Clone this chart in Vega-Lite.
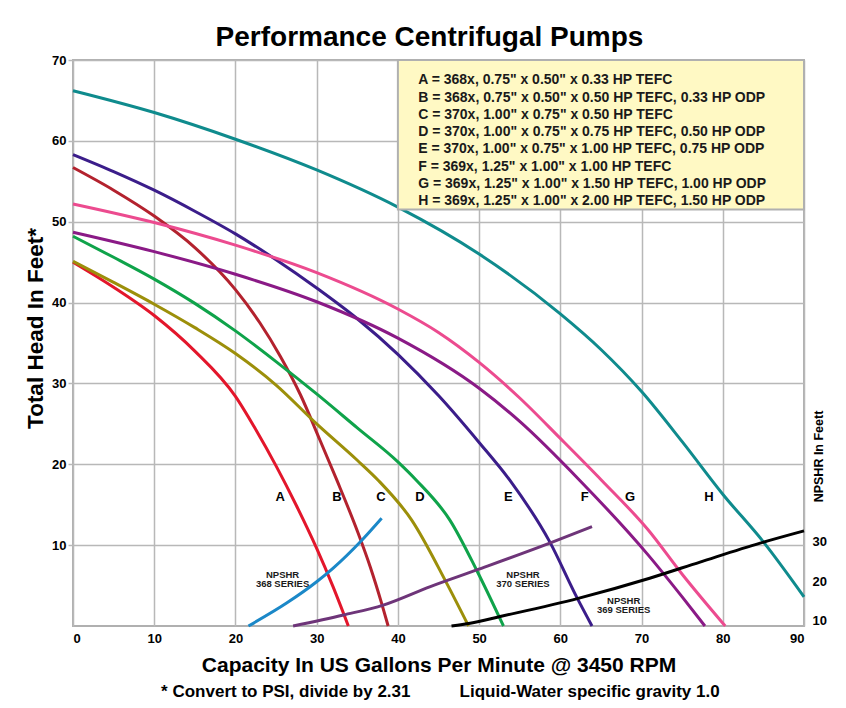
{
  "$schema": "https://vega.github.io/schema/vega-lite/v6.json",
  "width": 731,
  "height": 566,
  "autosize": {"type": "none"},
  "padding": {"left": 73, "top": 60, "right": 42, "bottom": 82},
  "background": "white",
  "title": {
    "text": "Performance Centrifugal Pumps",
    "font": "Liberation Sans",
    "fontSize": 28,
    "fontWeight": "bold",
    "color": "black",
    "anchor": "middle",
    "dx": -9,
    "dy": 37,
    "baseline": "alphabetic",
    "offset": 17
  },
  "config": {
    "view": {"stroke": "#b0b0b0", "strokeWidth": 2},
    "axis": {
      "labelFont": "Liberation Sans",
      "labelFontSize": 13,
      "labelFontWeight": "bold",
      "labelColor": "black",
      "gridColor": "#b8b8b8",
      "gridWidth": 1.5,
      "gridOpacity": 1,
      "domain": false,
      "titleColor": "black"
    }
  },
  "datasets": {
    "curves": [
      {"s": "A", "x": 0, "y": 45.0}, {"s": "A", "x": 5, "y": 41.9}, {"s": "A", "x": 10, "y": 38.4}, {"s": "A", "x": 15, "y": 34.0}, {"s": "A", "x": 20, "y": 28.4}, {"s": "A", "x": 22.5, "y": 24.3}, {"s": "A", "x": 25, "y": 19.8}, {"s": "A", "x": 27.5, "y": 14.9}, {"s": "A", "x": 30, "y": 9.6}, {"s": "A", "x": 32, "y": 4.9}, {"s": "A", "x": 33.9, "y": 0},
      {"s": "B", "x": 0, "y": 56.7}, {"s": "B", "x": 5, "y": 53.9}, {"s": "B", "x": 10, "y": 50.7}, {"s": "B", "x": 15, "y": 46.8}, {"s": "B", "x": 20, "y": 41.6}, {"s": "B", "x": 23, "y": 37.5}, {"s": "B", "x": 25.5, "y": 33.4}, {"s": "B", "x": 28, "y": 28.6}, {"s": "B", "x": 30.4, "y": 23.0}, {"s": "B", "x": 32.5, "y": 18.0}, {"s": "B", "x": 35.1, "y": 11.5}, {"s": "B", "x": 36.6, "y": 7.3}, {"s": "B", "x": 38.0, "y": 2.8}, {"s": "B", "x": 38.8, "y": 0},
      {"s": "C", "x": 0, "y": 45.1}, {"s": "C", "x": 5, "y": 42.5}, {"s": "C", "x": 10, "y": 39.8}, {"s": "C", "x": 15, "y": 36.9}, {"s": "C", "x": 20, "y": 33.7}, {"s": "C", "x": 25, "y": 29.8}, {"s": "C", "x": 30, "y": 25.0}, {"s": "C", "x": 35, "y": 20.5}, {"s": "C", "x": 37.6, "y": 18.0}, {"s": "C", "x": 41.7, "y": 13.1}, {"s": "C", "x": 46.0, "y": 5.3}, {"s": "C", "x": 48.7, "y": 0},
      {"s": "D", "x": 0, "y": 48.2}, {"s": "D", "x": 5, "y": 45.6}, {"s": "D", "x": 10, "y": 42.9}, {"s": "D", "x": 15, "y": 39.9}, {"s": "D", "x": 20, "y": 36.5}, {"s": "D", "x": 25, "y": 32.7}, {"s": "D", "x": 30, "y": 28.7}, {"s": "D", "x": 35, "y": 24.5}, {"s": "D", "x": 40, "y": 20.3}, {"s": "D", "x": 42.3, "y": 18.0}, {"s": "D", "x": 46.4, "y": 13.1}, {"s": "D", "x": 49.7, "y": 6.9}, {"s": "D", "x": 53.0, "y": 0},
      {"s": "E", "x": 0, "y": 58.3}, {"s": "E", "x": 5, "y": 56.2}, {"s": "E", "x": 10, "y": 53.9}, {"s": "E", "x": 15, "y": 51.3}, {"s": "E", "x": 20, "y": 48.5}, {"s": "E", "x": 25, "y": 45.3}, {"s": "E", "x": 30, "y": 41.8}, {"s": "E", "x": 35, "y": 38.0}, {"s": "E", "x": 40, "y": 33.6}, {"s": "E", "x": 45, "y": 28.5}, {"s": "E", "x": 50, "y": 22.7}, {"s": "E", "x": 53.8, "y": 18.0}, {"s": "E", "x": 58.7, "y": 10.4}, {"s": "E", "x": 62.0, "y": 3.6}, {"s": "E", "x": 63.9, "y": 0},
      {"s": "F", "x": 0, "y": 48.7}, {"s": "F", "x": 10, "y": 46.3}, {"s": "F", "x": 20, "y": 43.5}, {"s": "F", "x": 30, "y": 40.1}, {"s": "F", "x": 40, "y": 35.6}, {"s": "F", "x": 50, "y": 29.4}, {"s": "F", "x": 55, "y": 25.3}, {"s": "F", "x": 62.4, "y": 18.0}, {"s": "F", "x": 70.8, "y": 8.8}, {"s": "F", "x": 75, "y": 3.6}, {"s": "F", "x": 77.8, "y": 0},
      {"s": "G", "x": 0, "y": 52.2}, {"s": "G", "x": 10, "y": 49.9}, {"s": "G", "x": 20, "y": 47.1}, {"s": "G", "x": 30, "y": 43.7}, {"s": "G", "x": 40, "y": 39.2}, {"s": "G", "x": 45, "y": 36.3}, {"s": "G", "x": 50, "y": 32.6}, {"s": "G", "x": 55, "y": 28.2}, {"s": "G", "x": 60, "y": 23.2}, {"s": "G", "x": 65.1, "y": 18.0}, {"s": "G", "x": 70.8, "y": 11.9}, {"s": "G", "x": 75, "y": 6.4}, {"s": "G", "x": 80.3, "y": 0},
      {"s": "H", "x": 0, "y": 66.2}, {"s": "H", "x": 10, "y": 63.5}, {"s": "H", "x": 20, "y": 60.2}, {"s": "H", "x": 30, "y": 56.4}, {"s": "H", "x": 40, "y": 51.8}, {"s": "H", "x": 50, "y": 46.0}, {"s": "H", "x": 60, "y": 38.6}, {"s": "H", "x": 65, "y": 34.2}, {"s": "H", "x": 70, "y": 29.0}, {"s": "H", "x": 75, "y": 22.8}, {"s": "H", "x": 80, "y": 16.3}, {"s": "H", "x": 85, "y": 10.4}, {"s": "H", "x": 90, "y": 3.6}
    ],
    "npshr": [
      {"s": "N368", "x": 21.6, "n": 8.7}, {"s": "N368", "x": 26.3, "n": 14.5}, {"s": "N368", "x": 30.0, "n": 19.9}, {"s": "N368", "x": 32.0, "n": 23.3}, {"s": "N368", "x": 35.5, "n": 30.3}, {"s": "N368", "x": 38.0, "n": 36.0},
      {"s": "N370", "x": 27.1, "n": 8.7}, {"s": "N370", "x": 33.3, "n": 11.5}, {"s": "N370", "x": 38.2, "n": 14.0}, {"s": "N370", "x": 44.0, "n": 18.7}, {"s": "N370", "x": 49.7, "n": 22.9}, {"s": "N370", "x": 58.7, "n": 29.7}, {"s": "N370", "x": 63.9, "n": 33.9},
      {"s": "N369", "x": 46.6, "n": 8.7}, {"s": "N369", "x": 48.9, "n": 9.4}, {"s": "N369", "x": 52.6, "n": 11.1}, {"s": "N369", "x": 62.2, "n": 15.7}, {"s": "N369", "x": 71.0, "n": 20.8}, {"s": "N369", "x": 77.2, "n": 24.9}, {"s": "N369", "x": 84.6, "n": 29.7}, {"s": "N369", "x": 90, "n": 32.8}
    ],
    "keybox": [{"x1": 40, "x2": 90, "y1": 51.5, "y2": 70}],
    "keytext": [
      {"t": "A = 368x, 0.75\" x 0.50\" x 0.33 HP TEFC", "x": 42.5, "y": 67.47},
      {"t": "B = 368x, 0.75\" x 0.50\" x 0.50 HP TEFC, 0.33 HP ODP", "x": 42.5, "y": 65.34},
      {"t": "C = 370x, 1.00\" x 0.75\" x 0.50 HP TEFC", "x": 42.5, "y": 63.21},
      {"t": "D = 370x, 1.00\" x 0.75\" x 0.75 HP TEFC, 0.50 HP ODP", "x": 42.5, "y": 61.08},
      {"t": "E = 370x, 1.00\" x 0.75\" x 1.00 HP TEFC, 0.75 HP ODP", "x": 42.5, "y": 58.95},
      {"t": "F = 369x, 1.25\" x 1.00\" x 1.00 HP TEFC", "x": 42.5, "y": 56.82},
      {"t": "G = 369x, 1.25\" x 1.00\" x 1.50 HP TEFC, 1.00 HP ODP", "x": 42.5, "y": 54.69},
      {"t": "H = 369x, 1.25\" x 1.00\" x 2.00 HP TEFC, 1.50 HP ODP", "x": 42.5, "y": 52.56}
    ],
    "letters": [
      {"t": "A", "x": 25.5, "y": 16}, {"t": "B", "x": 32.5, "y": 16}, {"t": "C", "x": 37.9, "y": 16}, {"t": "D", "x": 42.7, "y": 16},
      {"t": "E", "x": 53.6, "y": 16}, {"t": "F", "x": 63.0, "y": 16}, {"t": "G", "x": 68.6, "y": 16}, {"t": "H", "x": 78.3, "y": 16}
    ],
    "serieslabels": [
      {"t": "NPSHR\n368 SERIES", "x": 25.8, "y": 6.35},
      {"t": "NPSHR\n370 SERIES", "x": 55.4, "y": 6.35},
      {"t": "NPSHR\n369 SERIES", "x": 67.8, "y": 3.1}
    ],
    "footer": [
      {"t": "* Convert to PSI, divide by 2.31", "x": 26.2, "y": -8.2},
      {"t": "Liquid-Water specific gravity 1.0", "x": 63.6, "y": -8.2}
    ]
  },
  "layer": [
    {
      "layer": [
        {
          "data": {"name": "curves"},
          "mark": {"type": "line", "interpolate": "monotone", "strokeWidth": 3},
          "encoding": {
            "x": {
              "field": "x", "type": "quantitative",
              "scale": {"domain": [0, 90], "nice": false},
              "axis": {
                "values": [0, 10, 20, 30, 40, 50, 60, 70, 80, 90],
                "grid": true, "ticks": false, "labelPadding": 6,
                "title": "Capacity In US Gallons Per Minute @ 3450 RPM",
                "titleFont": "Liberation Sans",
                "titleFontSize": 21, "titleFontWeight": "bold",
                "titleBaseline": "alphabetic", "titleY": 45
              }
            },
            "y": {
              "field": "y", "type": "quantitative",
              "scale": {"domain": [0, 70], "nice": false},
              "axis": {
                "values": [10, 20, 30, 40, 50, 60, 70],
                "grid": true, "ticks": true, "tickSize": 5, "tickColor": "#b8b8b8", "tickWidth": 1.5,
                "labelPadding": 2,
                "title": "Total Head In Feet*",
                "titleFont": "Liberation Sans",
                "titleFontSize": 22.5, "titleFontWeight": "bold",
                "titleAngle": 270, "titleAlign": "center", "titleBaseline": "middle",
                "titleX": -38, "titleY": 268
              }
            },
            "color": {
              "field": "s", "type": "nominal", "legend": null,
              "scale": {
                "domain": ["A", "B", "C", "D", "E", "F", "G", "H", "N368", "N370", "N369"],
                "range": ["#e3162b", "#b3222e", "#9c8f0a", "#0fa34a", "#3b1d8a", "#8a1a86", "#ec4b8f", "#0f8b8d", "#1b88c8", "#6e3579", "#000000"]
              }
            }
          }
        },
        {
          "data": {"name": "keybox"},
          "mark": {"type": "rect", "fill": "#fff9c4", "stroke": "#b0b0b0", "strokeWidth": 2},
          "encoding": {
            "x": {"field": "x1", "type": "quantitative"},
            "x2": {"field": "x2"},
            "y": {"field": "y1", "type": "quantitative"},
            "y2": {"field": "y2"}
          }
        },
        {
          "data": {"name": "keytext"},
          "mark": {"type": "text", "align": "left", "baseline": "middle", "font": "Liberation Sans", "fontSize": 14, "fontWeight": "bold", "color": "#1a1a1a"},
          "encoding": {
            "x": {"field": "x", "type": "quantitative"},
            "y": {"field": "y", "type": "quantitative"},
            "text": {"field": "t"}
          }
        },
        {
          "data": {"name": "letters"},
          "mark": {"type": "text", "align": "center", "baseline": "middle", "font": "Liberation Sans", "fontSize": 13, "fontWeight": "bold", "color": "black"},
          "encoding": {
            "x": {"field": "x", "type": "quantitative"},
            "y": {"field": "y", "type": "quantitative"},
            "text": {"field": "t"}
          }
        },
        {
          "data": {"name": "serieslabels"},
          "mark": {"type": "text", "align": "center", "baseline": "middle", "font": "Liberation Sans", "fontSize": 9.5, "fontWeight": "bold", "color": "#1a1a1a", "lineBreak": "\n", "lineHeight": 9.5},
          "encoding": {
            "x": {"field": "x", "type": "quantitative"},
            "y": {"field": "y", "type": "quantitative"},
            "text": {"field": "t"}
          }
        },
        {
          "data": {"name": "footer"},
          "mark": {"type": "text", "align": "center", "baseline": "middle", "font": "Liberation Sans", "fontSize": 17, "fontWeight": "bold", "color": "black"},
          "encoding": {
            "x": {"field": "x", "type": "quantitative"},
            "y": {"field": "y", "type": "quantitative"},
            "text": {"field": "t"}
          }
        }
      ]
    },
    {
      "data": {"name": "npshr"},
      "mark": {"type": "line", "interpolate": "monotone", "strokeWidth": 3},
      "encoding": {
        "x": {"field": "x", "type": "quantitative"},
        "y": {
          "field": "n", "type": "quantitative",
          "scale": {"domain": [8.7, 152.1], "nice": false},
          "axis": {
            "orient": "right", "values": [10, 20, 30], "grid": false, "ticks": false,
            "labelPadding": 8,
            "title": "NPSHR In Feett",
            "titleFont": "Liberation Sans", "titleFontSize": 12.5, "titleFontWeight": "bold",
            "titleAngle": 270, "titleAlign": "center", "titleBaseline": "middle",
            "titleX": 14, "titleY": 396
          }
        },
        "color": {"field": "s", "type": "nominal", "legend": null}
      }
    }
  ],
  "resolve": {"scale": {"y": "independent"}}
}
